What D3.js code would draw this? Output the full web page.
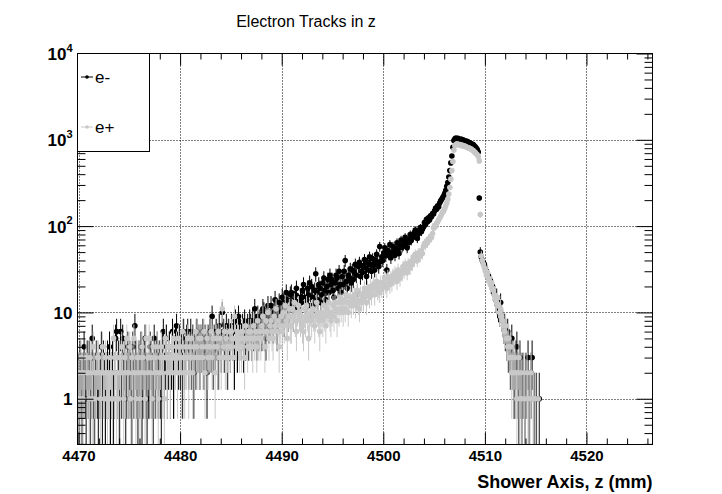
<!DOCTYPE html>
<html>
<head>
<meta charset="utf-8">
<script src="https://cdn.jsdelivr.net/npm/d3@7"></script>
<style>
  body { margin: 0; background: #fff; }
  svg { display: block; }
  text { font-family: "Liberation Sans", Arial, Helvetica, sans-serif; }
</style>
</head>
<body>
<svg id="chart" width="722" height="494"></svg>
<script>
// Histogram binning along the shower axis (mm)
const binLow = 4469.9;
const binWidth = 0.1;
const axisMax = 4526.5;

// e- track counts per 0.1 mm bin; one row per millimetre, starting at 4469.9
const electronCounts = [
  2,1,3,2,1,2,4,2,1,3,   // 4470
  2,3,1,2,5,2,1,2,3,2,
  1,2,2,4,1,3,2,1,2,3,
  2,4,1,2,3,1,2,5,6,2,
  3,1,6,2,5,2,3,1,2,4,
  2,3,2,1,4,2,7,3,2,1,   // 4475
  3,2,4,1,2,3,5,2,1,2,
  2,4,3,2,1,5,2,3,4,2,
  3,2,1,4,6,2,3,5,2,3,
  4,2,3,6,2,3,5,7,4,3,
  5,3,4,2,6,3,4,5,6,3,   // 4480
  4,6,3,5,2,4,3,6,4,5,
  3,5,4,6,3,5,4,2,5,4,
  6,4,9,3,5,4,6,5,3,7,
  5,4,10,6,4,5,7,3,6,5,
  4,7,5,6,3,8,5,4,9,6,   // 4485
  6,5,7,4,8,5,6,7,5,8,
  7,5,8,6,11,7,5,9,6,8,
  8,6,11,10,6,5,9,12,7,8,
  12,9,7,10,14,11,6,9,13,10,
  10,15,13,8,12,17,14,9,11,16,    // 4490
  17,12,9,14,16,19,11,13,10,15,
  13,18,21,15,11,14,19,16,22,12,
  20,15,12,18,28,17,14,21,19,13,
  16,22,25,18,14,20,24,17,27,21,
  24,18,15,22,27,25,19,30,21,17,  // 4495
  26,21,30,40,23,19,27,25,32,22,
  31,24,29,36,27,17,34,38,26,30,
  29,35,41,33,26,38,31,44,36,30,
  42,35,31,40,47,38,34,58,39,44,
  40,49,56,45,31,52,47,61,43,50,  // 4500
  58,50,46,55,64,53,48,60,69,57,
  59,67,74,63,56,70,65,80,68,73,
  75,84,90,79,72,88,83,96,86,92,
  98,110,104,120,112,125,118,132,128,140,
  138,150,162,157,172,168,185,196,205,215,   // 4505
  225,240,260,290,320,370,440,540,650,820,
  980,1030,1050,1020,1040,1010,1000,1020,990,1000,
  980,970,960,960,940,930,920,900,890,880,
  850,830,800,770,720,212,50,44,40,38,
  36,33,30,28,26,25,23,21,20,18,  // 4510
  16,14,15,12,11,10,13,9,8,7,
  7,6,5,6,4,4,3,5,3,2,
  2,3,4,2,1,3,2,1,2,0,
  1,2,0,3,1,0,2,3,0,1,
  0,1,0,0,1,0,0,0,0,0   // 4515
];

// e+ track counts per 0.1 mm bin, same binning
const positronCounts = [
  1,2,1,3,2,1,2,0,3,2,   // 4470
  2,1,3,2,1,4,2,1,2,3,
  3,2,1,2,4,2,1,3,2,1,
  2,1,3,2,1,5,2,3,1,2,
  1,3,2,4,2,1,3,2,5,2,
  2,4,1,3,2,5,2,1,3,2,   // 4475
  3,1,2,4,3,2,1,5,2,3,
  5,2,3,1,4,2,3,2,4,1,
  2,3,4,2,3,1,5,3,2,4,
  3,2,4,3,5,2,3,4,2,5,
  3,4,2,6,3,2,4,3,5,2,   // 4480
  4,3,5,2,4,3,6,4,3,5,
  3,5,4,3,6,2,4,5,3,4,
  4,6,3,5,4,2,5,4,6,3,
  5,3,11,4,6,3,5,4,3,6,
  4,6,5,3,9,5,4,6,5,4,   // 4485
  5,4,6,5,3,7,5,4,6,5,
  6,5,4,7,5,6,4,8,5,6,
  5,7,9,6,4,8,6,10,5,7,
  8,6,5,9,7,11,6,8,4,7,
  9,6,10,7,12,8,5,9,11,7,        // 4490
  7,11,9,13,8,6,10,12,9,8,
  9,7,6,11,8,12,9,5,8,10,
  8,11,9,7,9,13,10,8,6,9,
  10,8,12,9,7,11,10,13,9,8,
  10,12,9,13,11,8,13,10,15,11,   // 4495
  13,10,14,11,16,13,10,13,15,12,
  15,13,16,12,14,18,13,11,16,14,
  16,14,19,16,13,19,17,15,20,16,
  19,21,16,20,23,18,19,17,22,19,
  22,20,25,21,19,26,23,21,25,22,  // 4500
  27,25,29,26,23,31,28,25,30,28,
  34,30,36,32,29,37,34,33,39,36,
  44,40,47,43,40,49,46,45,52,48,
  58,63,60,67,64,71,69,76,74,82,
  95,102,99,108,112,118,124,130,138,146,  // 4505
  150,160,172,185,205,235,280,350,440,560,
  760,860,880,900,890,870,880,860,870,850,
  850,840,830,820,810,800,790,780,760,750,
  730,710,690,670,640,570,136,45,40,36,
  33,30,27,29,25,23,21,22,19,18,  // 4510
  16,14,13,15,12,10,11,9,8,7,
  6,7,5,4,5,3,4,2,3,2,
  3,2,1,2,3,1,2,1,0,2,
  1,0,2,1,0,1,2,0,1,0,
  1,0,0,1,0,0,0,0,0,0   // 4515
];

const seriesNames = ["e-", "e+"];
const seriesColors = ["#000000", "#c8c8c8"];
const xTickValues = [4470, 4480, 4490, 4500, 4510, 4520];
const yTickValues = [1, 10, 100, 1000, 10000];
const yMin = 0.295, yMax = 10000;

const svg = d3.select("#chart");
const W = 722, H = 494;
const frame = { left: 77.5, right: 652.5, top: 53.5, bottom: 444.5 };

svg.append("rect").attr("width", W).attr("height", H).attr("fill", "#fff");

const x = d3.scaleLinear().domain([binLow, axisMax]).range([frame.left, frame.right]);
const y = d3.scaleLog().domain([yMin, yMax]).range([frame.bottom, frame.top]);

// Title
svg.append("text")
  .attr("x", 306).attr("y", 27)
  .attr("text-anchor", "middle")
  .attr("font-size", 16)
  .text("Electron Tracks in z");

svg.append("clipPath").attr("id", "plotClip")
  .append("rect")
  .attr("x", frame.left).attr("y", frame.top)
  .attr("width", frame.right - frame.left).attr("height", frame.bottom - frame.top);

// Dotted grid at the labelled ticks
const grid = svg.append("g").attr("stroke", "#000").attr("stroke-width", 1)
  .attr("stroke-dasharray", "1,2");
grid.selectAll("line.gx").data(xTickValues).join("line")
  .attr("x1", d => Math.round(x(d)) + 0.5).attr("x2", d => Math.round(x(d)) + 0.5)
  .attr("y1", frame.top).attr("y2", frame.bottom);
grid.selectAll("line.gy").data(yTickValues.filter(v => v < yMax)).join("line")
  .attr("y1", d => Math.round(y(d)) + 0.5).attr("y2", d => Math.round(y(d)) + 0.5)
  .attr("x1", frame.left).attr("x2", frame.right);

// Histogram points with sqrt(N) error bars
const plot = svg.append("g").attr("clip-path", "url(#plotClip)");
[electronCounts, positronCounts].forEach((counts, s) => {
  const pts = counts.map((n, i) => ({ z: binLow + binWidth * (i + 0.5), n }))
    .filter(d => d.n > 0);
  const g = plot.append("g").attr("class", "series-" + s);
  const col = seriesColors[s];
  g.selectAll("line.ey").data(pts).join("line")
    .attr("x1", d => x(d.z)).attr("x2", d => x(d.z))
    .attr("y1", d => y(Math.max(d.n - Math.sqrt(d.n), yMin * 0.5)))
    .attr("y2", d => y(d.n + Math.sqrt(d.n)))
    .attr("stroke", col).attr("stroke-width", 1);
  g.selectAll("line.ex").data(pts).join("line")
    .attr("x1", d => x(d.z - binWidth / 2)).attr("x2", d => x(d.z + binWidth / 2))
    .attr("y1", d => y(d.n)).attr("y2", d => y(d.n))
    .attr("stroke", col).attr("stroke-width", 1);
  g.selectAll("circle").data(pts).join("circle")
    .attr("cx", d => x(d.z)).attr("cy", d => y(d.n))
    .attr("r", 2.8).attr("fill", col);
});

// Axes: ticks on all four sides, pointing inward
const xMinor = d3.range(4470, 4527, 2).filter(v => v % 10 !== 0);
const yMinor = [];
[0.1, 1, 10, 100, 1000].forEach(dec => {
  for (let k = 2; k <= 9; k++) {
    const v = dec * k;
    if (v >= yMin && v <= yMax) yMinor.push(v);
  }
});

function clean(g) { g.select(".domain").remove(); }

svg.append("g").attr("transform", `translate(0,${frame.bottom})`)
  .call(d3.axisBottom(x).tickValues(xTickValues).tickSize(-12).tickPadding(6).tickFormat(d3.format("d")))
  .call(clean)
  .call(g => g.selectAll("text").attr("font-size", 15).attr("font-weight", "bold")
    .attr("fill", "#000").style("font-family", '"Liberation Sans", Arial, sans-serif'));
svg.append("g").attr("transform", `translate(0,${frame.bottom})`)
  .call(d3.axisBottom(x).tickValues(xMinor).tickSize(-6).tickFormat(""))
  .call(clean);
svg.append("g").attr("transform", `translate(0,${frame.top})`)
  .call(d3.axisTop(x).tickValues(xTickValues).tickSize(-12).tickFormat(""))
  .call(clean);
svg.append("g").attr("transform", `translate(0,${frame.top})`)
  .call(d3.axisTop(x).tickValues(xMinor).tickSize(-6).tickFormat(""))
  .call(clean);

const yLeft = svg.append("g").attr("transform", `translate(${frame.left},0)`)
  .call(d3.axisLeft(y).tickValues(yTickValues).tickSize(-16).tickPadding(5).tickFormat(""))
  .call(clean);
svg.append("g").attr("transform", `translate(${frame.left},0)`)
  .call(d3.axisLeft(y).tickValues(yMinor).tickSize(-8).tickFormat(""))
  .call(clean);
svg.append("g").attr("transform", `translate(${frame.right},0)`)
  .call(d3.axisRight(y).tickValues(yTickValues).tickSize(-16).tickFormat(""))
  .call(clean);
svg.append("g").attr("transform", `translate(${frame.right},0)`)
  .call(d3.axisRight(y).tickValues(yMinor).tickSize(-8).tickFormat(""))
  .call(clean);

// Decade labels: 1, 10, 10^2 ...
yLeft.selectAll(".tick").each(function (d) {
  const t = d3.select(this).select("text")
    .attr("font-size", 17).attr("font-weight", "bold").attr("fill", "#000")
    .attr("x", -5).attr("dy", "0.36em").text(null);
  const e = Math.round(Math.log10(d));
  if (e <= 1) {
    t.text(String(d));
  } else {
    t.append("tspan").text("10");
    t.append("tspan").attr("font-size", 11).attr("dy", "-0.75em").text(String(e));
  }
});

// Frame
svg.append("rect")
  .attr("x", frame.left).attr("y", frame.top)
  .attr("width", frame.right - frame.left).attr("height", frame.bottom - frame.top)
  .attr("fill", "none").attr("stroke", "#000").attr("stroke-width", 1);

// Axis title
svg.append("text")
  .attr("x", frame.right).attr("y", 488)
  .attr("text-anchor", "end")
  .attr("font-size", 18).attr("font-weight", "bold")
  .text("Shower Axis, z (mm)");

// Legend
const legend = svg.append("g");
legend.append("rect")
  .attr("x", frame.left).attr("y", frame.top)
  .attr("width", 149.5 - frame.left).attr("height", 151.5 - frame.top)
  .attr("fill", "#fff").attr("stroke", "#000").attr("stroke-width", 1);
const legendRows = [77, 127];
seriesNames.forEach((name, i) => {
  const ly = legendRows[i];
  legend.append("line")
    .attr("x1", 81).attr("x2", 93).attr("y1", ly).attr("y2", ly)
    .attr("stroke", seriesColors[i]).attr("stroke-width", 1);
  legend.append("circle").attr("cx", 87).attr("cy", ly).attr("r", 1.8)
    .attr("fill", seriesColors[i]);
  legend.append("text")
    .attr("x", 95).attr("y", ly + 6)
    .attr("font-size", 17)
    .text(name);
});
</script>
</body>
</html>
